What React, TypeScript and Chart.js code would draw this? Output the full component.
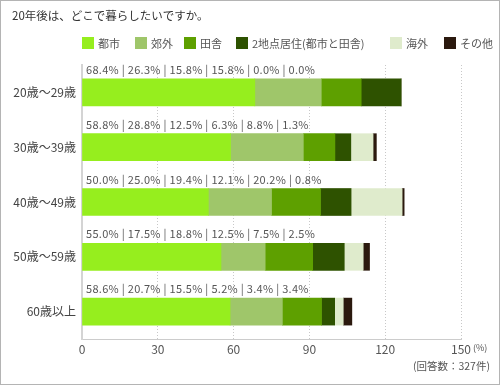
import React, { useEffect, useRef } from "react";
import { Chart, registerables } from "chart.js";

Chart.register(...registerables);

const TITLE = "20年後は、どこで暮らしたいですか。";
const NOTE = "(回答数：327件)";
const UNIT = "(%)";
const categories = ["20歳～29歳", "30歳～39歳", "40歳～49歳", "50歳～59歳", "60歳以上"];
const seriesNames = ["都市", "郊外", "田舎", "2地点居住(都市と田舎)", "海外", "その他"];
const seriesColors = ["#96ee1e", "#9fc66a", "#5ea000", "#2e5200", "#dfebcc", "#2b190e"];
const toshi = [68.4, 58.8, 50.0, 55.0, 58.6];
const kougai = [26.3, 28.8, 25.0, 17.5, 20.7];
const inaka = [15.8, 12.5, 19.4, 18.8, 15.5];
const nichiten = [15.8, 6.3, 12.1, 12.5, 5.2];
const kaigai = [0.0, 8.8, 20.2, 7.5, 3.4];
const sonota = [0.0, 1.3, 0.8, 2.5, 3.4];
const seriesValues = [toshi, kougai, inaka, nichiten, kaigai, sonota];
const xMin = 0;
const xMax = 150;
const xStep = 30;

const FONT = '"Noto Sans CJK JP", "Noto Sans", sans-serif';
// legend item left edges (layout, not data)
const LEGEND_X = [82, 135, 184, 236, 390, 444];

const decorPlugin = {
  id: "decor",
  beforeDraw(chart: any) {
    const ctx = chart.ctx;
    ctx.save();
    ctx.fillStyle = "#ffffff";
    ctx.fillRect(0, 0, chart.width, chart.height);
    ctx.restore();
  },
  afterDraw(chart: any) {
    const ctx = chart.ctx;
    const area = chart.chartArea;
    ctx.save();
    // frame
    ctx.strokeStyle = "#b4b4b4";
    ctx.lineWidth = 1;
    ctx.strokeRect(0.5, 0.5, chart.width - 1, chart.height - 1);
    // title
    ctx.fillStyle = "#333333";
    ctx.font = `11.5px ${FONT}`;
    ctx.textBaseline = "middle";
    ctx.textAlign = "left";
    ctx.fillText(TITLE, 12, 16);
    // legend
    ctx.font = `11px ${FONT}`;
    chart.data.datasets.forEach((ds: any, k: number) => {
      const x = LEGEND_X[k];
      ctx.fillStyle = ds.backgroundColor;
      ctx.fillRect(x, 37, 12, 12);
      ctx.fillStyle = "#555555";
      ctx.fillText(ds.label, x + 16, 43.5);
    });
    // value labels
    ctx.font = `11px ${FONT}`;
    ctx.fillStyle = "#555555";
    (ctx as any).letterSpacing = "0.3px";
    const meta = chart.getDatasetMeta(0);
    meta.data.forEach((bar: any, i: number) => {
      const text = seriesValues.map((s) => s[i].toFixed(1) + "%").join(" | ");
      ctx.fillText(text, area.left + 4, bar.y - bar.height / 2 - 9);
    });
    (ctx as any).letterSpacing = "0px";
    // unit & note
    ctx.font = `9px ${FONT}`;
    ctx.fillText(UNIT, area.right + 12, area.bottom + 9);
    ctx.font = `10.5px ${FONT}`;
    ctx.textAlign = "right";
    ctx.fillText(NOTE, 490, area.bottom + 27);
    ctx.restore();
  },
};

export default function App() {
  const ref = useRef<HTMLCanvasElement | null>(null);
  useEffect(() => {
    if (!ref.current) return;
    const chart = new Chart(ref.current, {
      type: "bar",
      data: {
        labels: categories,
        datasets: seriesNames.map((name, k) => ({
          label: name,
          data: seriesValues[k],
          backgroundColor: seriesColors[k],
          borderWidth: 0,
          barThickness: 27,
        })),
      },
      options: {
        indexAxis: "y",
        animation: false,
        responsive: false,
        maintainAspectRatio: false,
        layout: { padding: { top: 65, right: 39, left: 0, bottom: 0 } },
        plugins: {
          legend: { display: false },
          title: { display: false },
          tooltip: { enabled: false },
        },
        scales: {
          x: {
            stacked: true,
            min: xMin,
            max: xMax,
            ticks: {
              stepSize: xStep,
              color: "#555555",
              font: { family: FONT, size: 12 },
              padding: 3,
            },
            grid: {
              drawTicks: false,
              color: (c: any) => (c.tick && c.tick.value === 0 ? "rgba(0,0,0,0)" : "#c8c8c8"),
              lineWidth: 1,
            },
            border: { display: true, color: "#cccccc", width: 1, dash: [1, 2] },
            afterFit: (s: any) => {
              s.height = 46;
            },
          },
          y: {
            stacked: true,
            ticks: {
              color: "#444444",
              font: { family: FONT, size: 12 },
              padding: 6,
            },
            grid: { display: false, drawTicks: false },
            border: { display: true, color: "#d4d4d4", width: 2 },
            afterFit: (s: any) => {
              s.width = 82;
            },
          },
        },
      },
      plugins: [decorPlugin],
    });
    return () => chart.destroy();
  }, []);
  return (
    <div style={{ position: "absolute", left: 0, top: 0, width: 500, height: 385 }}>
      <canvas ref={ref} width={500} height={385} style={{ display: "block" }} />
    </div>
  );
}
